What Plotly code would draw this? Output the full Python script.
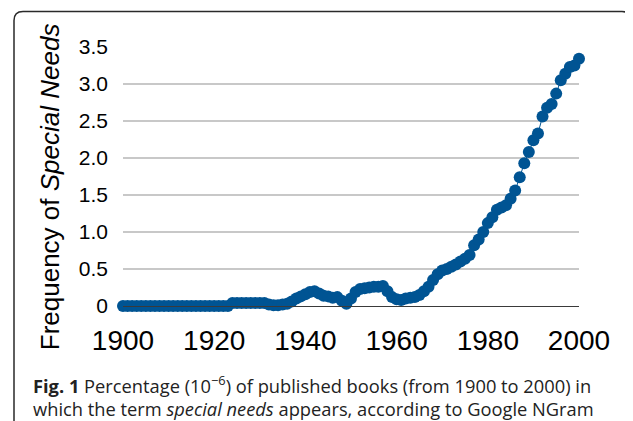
import plotly.graph_objects as go

years = list(range(1900, 2001))
freq = (
    [0.0] * 24 +                       # 1900-1923
    [0.04] * 8 +                       # 1924-1931
    [0.02, 0.01, 0.01, 0.02,           # 1932-1935
     0.03, 0.06, 0.10, 0.13, 0.16,     # 1936-1940
     0.19, 0.20, 0.17, 0.14, 0.13,     # 1941-1945
     0.11, 0.12, 0.07, 0.03, 0.10,     # 1946-1950
     0.19, 0.23, 0.24, 0.25, 0.26,     # 1951-1955
     0.26, 0.27, 0.20, 0.12, 0.09,     # 1956-1960
     0.08, 0.10, 0.11, 0.12, 0.15,     # 1961-1965
     0.20, 0.26, 0.35, 0.43, 0.48,     # 1966-1970
     0.50, 0.53, 0.56, 0.60, 0.64,     # 1971-1975
     0.69, 0.82, 0.90, 1.00, 1.12,     # 1976-1980
     1.20, 1.30, 1.33, 1.36, 1.45,     # 1981-1985
     1.56, 1.74, 1.93, 2.08, 2.24,     # 1986-1990
     2.33, 2.56, 2.68, 2.73, 2.87,     # 1991-1995
     3.05, 3.14, 3.23, 3.25, 3.34]     # 1996-2000
)
assert len(freq) == len(years)

y_tickvals = [0, 0.5, 1.0, 1.5, 2.0, 2.5, 3.0, 3.5]
y_ticktext = ["0", "0.5", "1.0", "1.5", "2.0", "2.5", "3.0", "3.5"]
x_tickvals = [1900, 1920, 1940, 1960, 1980, 2000]

y_title = "Frequency of <i>Special Needs</i>"
caption = ("<b>Fig. 1</b> Percentage (10<sup>\u22126</sup>) of published books (from 1900 to 2000) in"
           "<br>which the term <i>special needs</i> appears, according to Google NGram")

# the page body adds an 8px offset; compensate so the screenshot matches
OFF = 8
W, H = 633, 421
L = 123 - OFF
T = 46.5 - OFF
R = W - (579 - OFF)
B = H - (306 - OFF)
pw, ph = W - L - R, H - T - B

def px(xp):
    return (xp - OFF - L) / pw

def py(yp):
    return (H - B - (yp - OFF)) / ph

# rounded frame (decoration)
x0, x1, y0, y1, r = 14, 631, 11, 440, 9
frame_path = (
    f"M {px(x0)},{py(y1)} L {px(x0)},{py(y0 + r)} "
    f"Q {px(x0)},{py(y0)} {px(x0 + r)},{py(y0)} "
    f"L {px(x1 - r)},{py(y0)} "
    f"Q {px(x1)},{py(y0)} {px(x1)},{py(y0 + r)} "
    f"L {px(x1)},{py(y1)}"
)

blue = "#005493"
fig = go.Figure()
fig.add_trace(go.Scatter(
    x=years, y=freq, mode="lines+markers",
    line=dict(color=blue, width=1),
    marker=dict(color=blue, size=12, line=dict(width=0)),
    cliponaxis=False, showlegend=False,
))

fig.update_layout(
    width=W, height=H,
    margin=dict(l=L, r=R, t=T, b=B, pad=0, autoexpand=False),
    paper_bgcolor="white", plot_bgcolor="white",
    font=dict(family="Arial, Liberation Sans, sans-serif", color="black"),
    xaxis=dict(
        range=[1900, 2000], tickvals=x_tickvals, showgrid=False, zeroline=False,
        showline=True, linecolor="#3a3a3a", linewidth=1,
        tickfont=dict(size=28, color="black"), ticks="", ticklabelstandoff=9,
    ),
    yaxis=dict(
        range=[0, 3.5], tickvals=y_tickvals, ticktext=y_ticktext,
        showgrid=True, gridcolor="#c8c8c8", gridwidth=1.5, zeroline=False,
        showline=False, tickfont=dict(size=21, color="black"), ticks="",
        ticklabelstandoff=14,
    ),
    shapes=[dict(type="path", xref="paper", yref="paper", path=frame_path,
                 line=dict(color="#2a2a2a", width=1.5), layer="below")],
    annotations=[
        dict(text=y_title, xref="paper", yref="paper", x=px(50), y=py(187),
             textangle=-90, showarrow=False, xanchor="center", yanchor="middle",
             font=dict(size=26, family="Arial, Liberation Sans, sans-serif", color="black")),
        dict(text=caption, xref="paper", yref="paper", x=px(31), y=py(396),
             showarrow=False, xanchor="left", yanchor="middle", align="left",
             font=dict(size=18.3, family="Open Sans, sans-serif", color="#222222")),
    ],
)

fig.write_html("out.html")
